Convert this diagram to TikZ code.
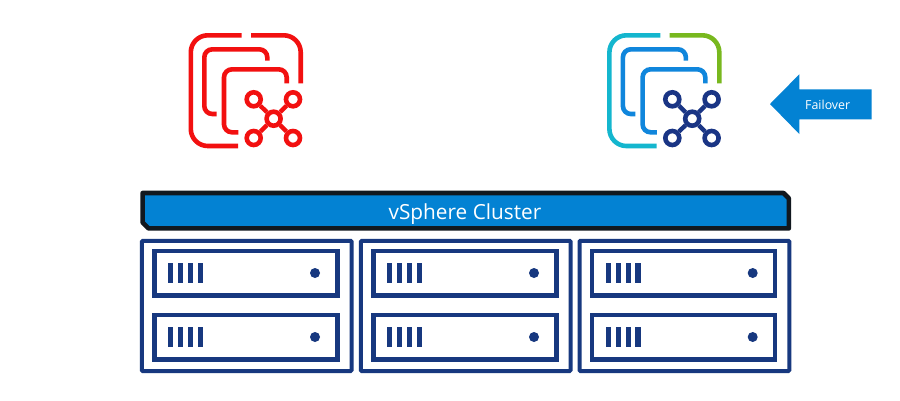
\documentclass[tikz,border=0pt]{standalone}
\usepackage{fontspec}
\setmainfont{Open Sans}
\definecolor{navy}{HTML}{17387F}
\definecolor{barblue}{HTML}{0382D3}
\definecolor{barline}{HTML}{11181F}
\definecolor{iconred}{HTML}{F21010}
\definecolor{iconteal}{HTML}{14B6CE}
\definecolor{icongreen}{HTML}{78B81E}
\definecolor{iconblue}{HTML}{1086DC}
\definecolor{icondark}{HTML}{1A3585}
\tikzset{
  rackbox/.style={draw=navy,line width=4pt,rounded corners=1pt},
  serverbox/.style={draw=navy,line width=4.6pt},
  ledbar/.style={fill=navy},
  leddot/.style={fill=navy,circle,inner sep=0pt,minimum size=10pt},
  iconline/.style={line width=4.6pt,line cap=butt},
  netline/.style={line width=4.4pt},
  netring/.style={line width=4.6pt,circle,inner sep=0pt,minimum size=14pt},
}
% one server at vertical offset #1
\newcommand{\oneserver}[1]{
  \begin{scope}[yshift=-#1pt]
    \draw[serverbox] (154.4,251) rectangle (337.2,295.6);
    \foreach \bx in {168,178,188,197.7}
      \fill[ledbar] (\bx,263.3) rectangle ++(5.3,19.9);
    \node[leddot] at (315,273) {};
  \end{scope}
}
\newcommand{\onerack}[1]{
  \begin{scope}[xshift=#1pt]
    \draw[rackbox] (141.8,240.8) rectangle (351.6,371);
    \oneserver{0}
    \oneserver{64}
  \end{scope}
}
% icon: #1 horizontal offset, #2 outer left, #3 outer right, #4 inner, #5 network, #6 name
\newcommand{\vmicon}[6]{
  \begin{scope}[xshift=#1pt]
    \draw[iconline,draw=#2,rounded corners=17pt] (241.7,35.3) -- (190.8,35.3) -- (190.8,146) -- (238,146);
    \draw[iconline,draw=#3,rounded corners=17pt] (251,35.3) -- (300.7,35.3) -- (300.7,83.3);
    \draw[iconline,draw=#4,rounded corners=8pt] (216.7,114) -- (204.3,114) -- (204.3,49.3) -- (267.3,49.3) -- (267.3,60.7);
    \draw[iconline,draw=#4,rounded corners=8pt] (238.3,132.3) -- (224,132.3) -- (224,69.3) -- (286.7,69.3) -- (286.7,83.3);
    \node[netring,draw=#5] (hub#6) at (273.6,118.7) {};
    \foreach \nm/\px/\py in {a/253.7/99.3,b/293/99.3,c/253.7/138,d/293/138}{
      \node[netring,draw=#5] (sat\nm#6) at (\px,\py) {};
      \draw[netline,draw=#5] (hub#6) -- (sat\nm#6);
    }
  \end{scope}
}
\begin{document}
\begin{tikzpicture}[x=1pt,y=-1pt]
  \useasboundingbox (0,0) rectangle (900,400);
  \fill[white] (0,0) rectangle (900,400);

  \vmicon{0}{iconred}{iconred}{iconred}{iconred}{L}
  \vmicon{418.6}{iconteal}{icongreen}{iconblue}{icondark}{R}

  % failover arrow
  \fill[barblue] (770,104) -- (799.3,74.3) -- (799.3,89.3) -- (871.7,89.3) -- (871.7,119.3) -- (799.3,119.3) -- (799.3,134) -- cycle;
  \node[text=white,font=\fontsize{12.4pt}{14pt}\selectfont,inner sep=0pt] (failover) at (827.7,104.6) {Failover};

  % cluster bar
  \draw[fill=barblue,draw=barline,line width=4.6pt,line join=round]
    (142.6,193) -- (783.5,193) -- (788.8,198.3) -- (788.8,228.4) -- (148.5,228.4) -- (142.6,222.4) -- cycle;
  \node[text=white,font=\fontsize{20.8pt}{24pt}\selectfont,inner sep=0pt] (cluster) at (465,213.8) {vSphere Cluster};

  \onerack{0}
  \onerack{219}
  \onerack{437.7}
\end{tikzpicture}
\end{document}
